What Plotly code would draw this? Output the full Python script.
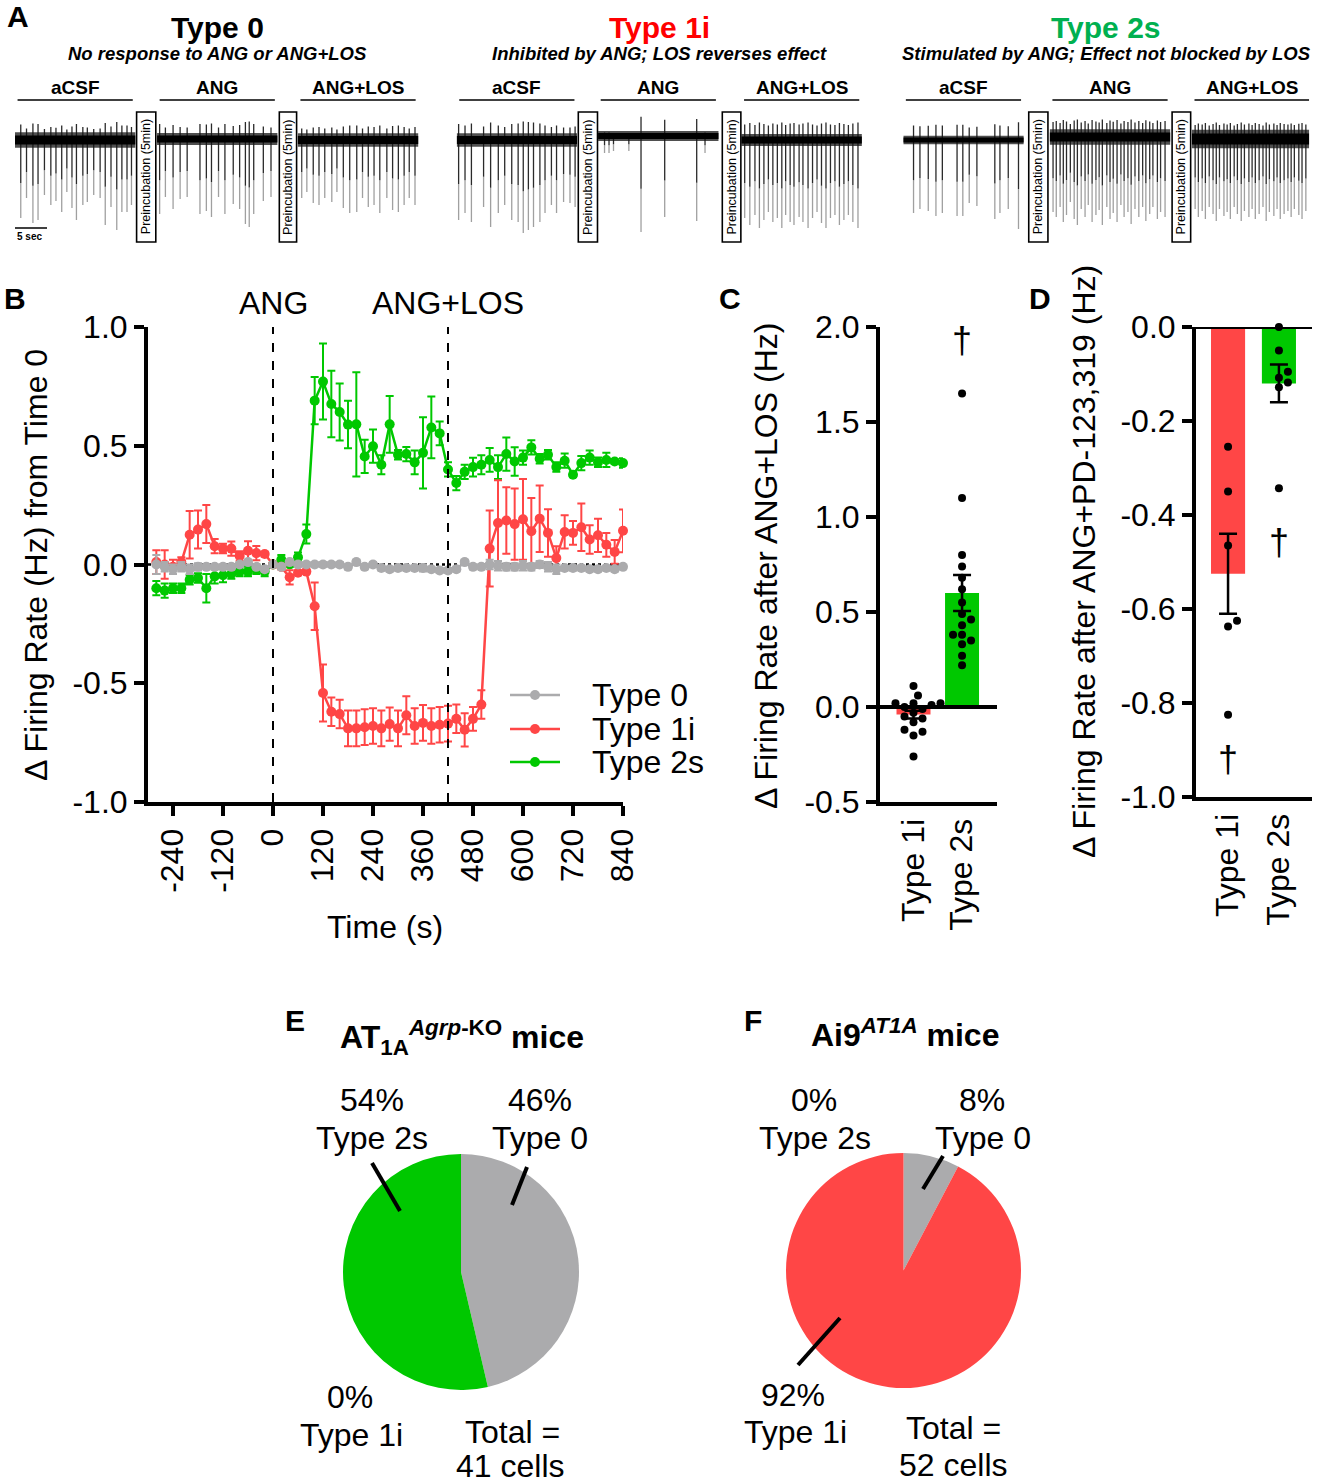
import plotly.graph_objects as go

W, H = 1321, 1483
FONT = "Liberation Sans, Arial, sans-serif"
RED = "#FF4646"
GREEN = "#00C800"
GRAY = "#ABABAD"

# ---------------- DATA ----------------
# Panel A: spike times (s within segment) and amplitudes (a.u.) per segment
t0_acsf_t = [0.9, 1.8, 2.8, 3.6, 4.6, 5.6, 6.4, 7.3, 8.1, 8.9, 9.6, 10.6, 11.3, 12.3, 13.3, 14.1, 15.0, 15.9, 16.7, 17.5, 18.2]
t0_acsf_a = [78, 58, 83, 80, 55, 65, 61, 72, 52, 68, 80, 65, 62, 55, 58, 85, 67, 90, 72, 72, 65]
t0_ang_t = [0.4, 1.3, 2.5, 3.6, 4.7, 6.7, 7.7, 8.5, 9.6, 10.6, 11.9, 12.9, 13.8, 14.4, 15.1, 16.6, 17.8]
t0_ang_a = [75, 58, 70, 60, 58, 75, 72, 78, 58, 75, 65, 70, 85, 88, 75, 62, 58]
t0_los_t = [0.6, 1.4, 2.4, 3.3, 4.2, 5.3, 6.1, 7.1, 8.1, 9.2, 10.1, 11.0, 11.9, 12.8, 13.9, 14.8, 15.7, 16.6, 17.4, 18.3]
t0_los_a = [58, 52, 63, 65, 58, 62, 52, 68, 73, 72, 58, 67, 65, 73, 58, 70, 72, 65, 58, 65]

t1_acsf_t = [0.3, 1.3, 2.3, 4.2, 5.3, 6.5, 7.5, 8.6, 9.6, 10.4, 11.2, 12.0, 13.0, 13.8, 14.8, 15.6, 16.7, 17.7, 18.5]
t1_acsf_a = [80, 73, 82, 67, 87, 73, 65, 80, 82, 93, 90, 87, 82, 73, 65, 73, 62, 63, 67]
t1_ang_t = [1.0, 1.7, 2.4, 4.8, 6.7, 10.4, 15.4, 16.7]
t1_ang_a = [17, 17, 15, 15, 96, 81, 85, 17]
t1_los_t = [0.5, 1.3, 2.1, 2.8, 3.5, 4.2, 4.9, 5.6, 6.3, 6.9, 7.6, 8.2, 9.0, 9.6, 10.4, 11.1, 11.8, 12.5, 13.2, 13.9, 14.6, 15.3, 16.0, 16.7, 17.4, 18.2]
t1_los_a = [78, 85, 75, 88, 80, 72, 82, 78, 88, 75, 82, 85, 77, 82, 88, 78, 72, 83, 88, 78, 75, 85, 80, 75, 82, 88]

t2_acsf_t = [1.6, 2.6, 3.9, 5.1, 6.1, 8.4, 9.3, 10.3, 11.5, 14.3, 15.1, 16.4, 18.0]
t2_acsf_a = [73, 69, 71, 76, 73, 76, 76, 63, 66, 79, 73, 69, 89]
t2_ang_t = [0.5, 1.0, 1.6, 2.1, 2.6, 3.2, 3.8, 4.3, 4.9, 5.5, 6.0, 6.6, 7.2, 7.7, 8.2, 8.9, 9.4, 9.9, 10.5, 11.1, 11.6, 12.2, 12.7, 13.3, 13.9, 14.5, 15.0, 15.6, 16.1, 16.8, 17.3, 18.0]
t2_ang_a = [75, 80, 70, 85, 78, 65, 82, 88, 72, 80, 68, 85, 78, 73, 88, 70, 82, 76, 85, 68, 80, 75, 87, 72, 80, 70, 84, 77, 70, 82, 75, 80]
t2_los_t = [0.5, 1.0, 1.6, 2.1, 2.7, 3.3, 3.8, 4.3, 5.0, 5.5, 6.0, 6.6, 7.1, 7.7, 8.2, 8.9, 9.4, 9.9, 10.5, 11.1, 11.6, 12.1, 12.8, 13.3, 13.8, 14.4, 15.0, 15.5, 16.0, 16.7, 17.2, 17.8]
t2_los_a = [70, 78, 72, 80, 68, 75, 82, 70, 77, 73, 80, 68, 75, 82, 72, 78, 70, 80, 75, 68, 82, 73, 77, 70, 80, 75, 72, 78, 70, 76, 80, 72]

# baseline noise half-amplitude and baseline level per segment (aCSF, ANG, ANG+LOS)
t0_noise = [9, 7, 8]
t1_noise = [8, 6, 7]
t2_noise = [5, 9, 11]
t0_base = [0, 1, 0]
t1_base = [0, 4, 0]
t2_base = [0, 3, 1]

segment_names = ["aCSF", "ANG", "ANG+LOS"]

# Panel B: time bins (s) and mean +/- SEM of delta firing rate (Hz)
time_s = list(range(-280, 841, 20))
type0_mean = [0.0, -0.01, -0.02, -0.01, -0.02, -0.01, -0.01, -0.01, -0.01, -0.01, 0.0, 0.01, -0.01, -0.02,
              0.0, -0.01, 0.01, 0.0, 0.0, 0.0, 0.0, 0.0, 0.0, -0.01, 0.01, -0.01, 0.0, -0.015, -0.02, -0.015,
              -0.015, -0.015, -0.015, -0.02, -0.025, -0.025, -0.02, 0.01, -0.01, -0.01, 0.0, -0.005, -0.01,
              -0.01, -0.005, -0.01, 0.0, -0.01, -0.02, -0.015, -0.015, -0.015, -0.02, -0.02, -0.015, -0.02, -0.01]
type0_sem = [0.04, 0.02, 0.02, 0.02, 0.02, 0.015, 0.01, 0.01, 0.01, 0.01, 0.01, 0.01, 0.01, 0.01,
             0.0, 0.01, 0.01, 0.01, 0.01, 0.01, 0.01, 0.01, 0.01, 0.01, 0.01, 0.01, 0.01, 0.01, 0.01, 0.01,
             0.01, 0.01, 0.015, 0.01, 0.01, 0.01, 0.01, 0.01, 0.01, 0.01, 0.02, 0.02, 0.015, 0.015,
             0.02, 0.015, 0.015, 0.02, 0.02, 0.01, 0.01, 0.01, 0.01, 0.01, 0.01, 0.01, 0.01]
type1i_mean = [0.01, 0.0, -0.01, 0.01, 0.125, 0.147, 0.17, 0.077, 0.067, 0.067, 0.036, 0.058, 0.048, 0.044,
               0.0, -0.01, -0.054, -0.035, -0.03, -0.176, -0.541, -0.62, -0.63, -0.69, -0.69, -0.685, -0.68,
               -0.69, -0.672, -0.69, -0.635, -0.68, -0.667, -0.68, -0.675, -0.67, -0.65, -0.696, -0.65, -0.59,
               0.067, 0.175, 0.185, 0.17, 0.19, 0.14, 0.193, 0.133, 0.027, 0.137, 0.133, 0.157, 0.105, 0.123,
               0.083, 0.053, 0.142]
type1i_sem = [0.05, 0.06, 0.03, 0.02, 0.10, 0.08, 0.08, 0.03, 0.02, 0.03, 0.02, 0.04, 0.03, 0.01,
              0.0, 0.01, 0.03, 0.01, 0.01, 0.10, 0.12, 0.06, 0.06, 0.075, 0.075, 0.075, 0.075, 0.075, 0.07,
              0.075, 0.08, 0.075, 0.075, 0.075, 0.075, 0.075, 0.06, 0.07, 0.05, 0.06, 0.16, 0.18, 0.14,
              0.15, 0.17, 0.14, 0.14, 0.10, 0.05, 0.07, 0.05, 0.10, 0.06, 0.07, 0.05, 0.05, 0.09]
type2s_mean = [-0.10, -0.11, -0.10, -0.10, -0.064, -0.057, -0.10, -0.05, -0.045, -0.04, -0.03, -0.03, -0.02,
               -0.03, 0.0, 0.02, 0.0, 0.03, 0.128, 0.69, 0.77, 0.676, 0.642, 0.589, 0.59, 0.455, 0.498, 0.42,
               0.59, 0.462, 0.465, 0.43, 0.47, 0.577, 0.552, 0.40, 0.343, 0.39, 0.41, 0.42, 0.44, 0.41, 0.465,
               0.434, 0.45, 0.493, 0.445, 0.462, 0.41, 0.437, 0.378, 0.427, 0.45, 0.43, 0.44, 0.434, 0.427]
type2s_sem = [0.03, 0.03, 0.02, 0.02, 0.02, 0.02, 0.06, 0.03, 0.03, 0.02, 0.02, 0.02, 0.02, 0.02,
              0.0, 0.02, 0.01, 0.02, 0.04, 0.10, 0.16, 0.14, 0.12, 0.10, 0.22, 0.07, 0.07, 0.04, 0.12, 0.02,
              0.03, 0.05, 0.15, 0.13, 0.05, 0.03, 0.03, 0.03, 0.04, 0.04, 0.05, 0.05, 0.07, 0.06, 0.03, 0.03,
              0.02, 0.02, 0.02, 0.03, 0.01, 0.03, 0.03, 0.02, 0.03, 0.01, 0.02]
xticks_b = [-240, -120, 0, 120, 240, 360, 480, 600, 720, 840]

# Panel C
bar_cats = ["Type 1i", "Type 2s"]
c_mean = [-0.04, 0.60]
c_sem = [0.02, 0.095]
c_pts_1i = [0.11, 0.06, 0.02, 0.02, 0.02, 0.01, 0.0, -0.01, -0.03, -0.05, -0.06, -0.08, -0.12, -0.13, -0.15, -0.26]
c_pts_2s = [1.65, 1.10, 0.80, 0.74, 0.68, 0.62, 0.55, 0.49, 0.46, 0.43, 0.38, 0.38, 0.35, 0.33, 0.27, 0.22]
c_dagger = [None, 1.91]

# Panel D
d_mean = [-0.525, -0.12]
d_sem = [0.085, 0.04]
d_pts_1i = [-0.255, -0.35, -0.465, -0.625, -0.637, -0.825]
d_pts_2s = [0.0, -0.05, -0.095, -0.108, -0.118, -0.128, -0.343]
d_dagger = [-0.928, -0.466]

# Panels E, F (cell counts)
pie_labels = ["Type 0", "Type 1i", "Type 2s"]
e_counts = [19, 0, 22]
f_counts = [4, 48, 0]

# ---------------- HELPERS ----------------
def fx(p):
    return p / W


def fy(p):
    return 1 - p / H


fig = go.Figure()
shapes = []
annots = []
lay = {}


def text(t, xp, yp, size=32, color="black", angle=0, xanchor="center", yanchor="middle"):
    annots.append(dict(text=t, x=fx(xp), y=fy(yp), xref="paper", yref="paper", showarrow=False,
                       font=dict(family=FONT, size=size, color=color), textangle=angle,
                       xanchor=xanchor, yanchor=yanchor))


def pline(x0, y0, x1, y1, width=4, color="black", dash=None):
    shapes.append(dict(type="line", xref="paper", yref="paper", x0=fx(x0), y0=fy(y0), x1=fx(x1), y1=fy(y1),
                       line=dict(color=color, width=width, dash=dash)))


# ---------------- PANEL A ----------------
SEG_LEN = 18.8
A_SPAN = 63.4
PX_PER_S = 6.4
panelA = [
    dict(title="Type 0", color="black", sub="No response to ANG or ANG+LOS", x0=15,
         starts=[0, 22.2, 44.2], boxes=[(19.0, 22.0), (41.3, 44.0)],
         spikes=[(t0_acsf_t, t0_acsf_a), (t0_ang_t, t0_ang_a), (t0_los_t, t0_los_a)],
         noise=t0_noise, base=t0_base),
    dict(title="Type 1i", color="#FF0000", sub="Inhibited by ANG; LOS reverses effect", x0=456.7,
         starts=[0, 22.1, 44.5], boxes=[(19.0, 22.0), (41.5, 44.4)],
         spikes=[(t1_acsf_t, t1_acsf_a), (t1_ang_t, t1_ang_a), (t1_los_t, t1_los_a)],
         noise=t1_noise, base=t1_base),
    dict(title="Type 2s", color="#00B050", sub="Stimulated by ANG; Effect not blocked by LOS", x0=903.3,
         starts=[0, 22.9, 45.1], boxes=[(19.6, 22.6), (42.0, 44.9)],
         spikes=[(t2_acsf_t, t2_acsf_a), (t2_ang_t, t2_ang_a), (t2_los_t, t2_los_a)],
         noise=t2_noise, base=t2_base),
]

for i, P in enumerate(panelA, start=1):
    xa, ya = f"x{i}", f"y{i}"
    x1px = P["x0"] + A_SPAN * PX_PER_S
    lay[f"xaxis{i}"] = dict(domain=[fx(P["x0"]), fx(x1px)], range=[0, A_SPAN], visible=False,
                            anchor=ya, fixedrange=True)
    lay[f"yaxis{i}"] = dict(domain=[fy(252), fy(60)], range=[-112, 80], visible=False,
                            anchor=xa, fixedrange=True)
    for s in range(3):
        off = P["starts"][s]
        b = P["base"][s]
        ts, amps = P["spikes"][s]
        xt, yt, xb, yb = [], [], [], []
        for t, a in zip(ts, amps):
            xx = off + t
            xt += [xx, xx, None]
            yt += [b + 0.2 * a, b - 0.55 * a, None]
            xb += [xx, xx, None]
            yb += [b - 0.55 * a, b - a, None]
        fig.add_trace(go.Scatter(x=xb, y=yb, mode="lines", line=dict(color="#a0a0a0", width=1.3),
                                 xaxis=xa, yaxis=ya, hoverinfo="skip", showlegend=False))
        fig.add_trace(go.Scatter(x=xt, y=yt, mode="lines", line=dict(color="#2a2a2a", width=1.3),
                                 xaxis=xa, yaxis=ya, hoverinfo="skip", showlegend=False))
        # noise envelope and dense core of the baseline
        fig.add_trace(go.Scatter(x=[off, off + SEG_LEN], y=[b, b], mode="lines",
                                 line=dict(color="rgba(20,20,20,0.75)", width=1.7 * P["noise"][s]),
                                 xaxis=xa, yaxis=ya, hoverinfo="skip", showlegend=False))
        fig.add_trace(go.Scatter(x=[off, off + SEG_LEN], y=[b, b], mode="lines",
                                 line=dict(color="black", width=1.0 * P["noise"][s]),
                                 xaxis=xa, yaxis=ya, hoverinfo="skip", showlegend=False))
        annots.append(dict(text=f"<b>{segment_names[s]}</b>", x=off + SEG_LEN / 2, y=52, xref=xa, yref=ya,
                           showarrow=False, font=dict(family=FONT, size=19, color="black")))
        shapes.append(dict(type="line", xref=xa, yref=ya, x0=off + 0.4, x1=off + SEG_LEN - 0.4, y0=40, y1=40,
                           line=dict(color="black", width=1.6)))
    for (bx0, bx1) in P["boxes"]:
        shapes.append(dict(type="rect", xref=xa, yref=ya, x0=bx0, x1=bx1, y0=-102, y1=28,
                           line=dict(color="black", width=1.6), fillcolor="white", layer="above"))
        annots.append(dict(text="Preincubation (5min)", x=(bx0 + bx1) / 2, y=-37, xref=xa, yref=ya,
                           showarrow=False, textangle=-90, font=dict(family=FONT, size=12.5, color="black")))
    cx = P["x0"] + A_SPAN * PX_PER_S / 2
    text(f"<b>{P['title']}</b>", cx, 27, size=30, color=P["color"])
    text(f"<b><i>{P['sub']}</i></b>", cx, 54, size=18.5)

# scale bar
shapes.append(dict(type="line", xref="x1", yref="y1", x0=0, x1=5, y0=-88, y1=-88,
                   line=dict(color="black", width=1.6)))
annots.append(dict(text="<b>5 sec</b>", x=2.3, y=-97, xref="x1", yref="y1", showarrow=False,
                   font=dict(family=FONT, size=10, color="black")))

# ---------------- PANEL B ----------------
axis_common = dict(showgrid=False, zeroline=False, showline=True, linecolor="black", linewidth=4,
                   ticks="outside", ticklen=10, tickwidth=4, tickcolor="black",
                   tickfont=dict(family=FONT, size=32, color="black"), fixedrange=True, automargin=False)

lay["xaxis4"] = dict(axis_common, domain=[fx(148), fx(623)], range=[-300, 840], anchor="y4",
                     tickvals=xticks_b, ticktext=[str(v) for v in xticks_b], tickangle=-90)
lay["yaxis4"] = dict(axis_common, domain=[fy(802), fy(327)], range=[-1, 1], anchor="x4",
                     tickvals=[-1, -0.5, 0, 0.5, 1], ticktext=["-1.0", "-0.5", "0.0", "0.5", "1.0"])

shapes.append(dict(type="line", xref="x4", yref="y4", x0=-300, x1=840, y0=0, y1=0, layer="below",
                   line=dict(color="black", width=2.5, dash="dot")))
for xv in [0, 420]:
    shapes.append(dict(type="line", xref="x4", yref="y4", x0=xv, x1=xv, y0=-1, y1=1,
                       line=dict(color="black", width=2, dash="dash")))

for name, mean, sem, col in [("Type 2s", type2s_mean, type2s_sem, GREEN),
                             ("Type 1i", type1i_mean, type1i_sem, RED),
                             ("Type 0", type0_mean, type0_sem, GRAY)]:
    fig.add_trace(go.Scatter(x=time_s, y=mean, mode="lines+markers", name=name,
                             line=dict(color=col, width=2.5), marker=dict(color=col, size=10),
                             error_y=dict(type="data", array=sem, color=col, thickness=2, width=4),
                             xaxis="x4", yaxis="y4", showlegend=False, cliponaxis=False))

annots.append(dict(text="ANG", x=0, y=fy(303), xref="x4", yref="paper", showarrow=False,
                   xanchor="center", yanchor="middle", font=dict(family=FONT, size=32, color="black")))
annots.append(dict(text="ANG+LOS", x=420, y=fy(303), xref="x4", yref="paper", showarrow=False,
                   xanchor="center", yanchor="middle", font=dict(family=FONT, size=32, color="black")))
text("Δ Firing Rate (Hz) from Time 0", 36, 565, size=32, angle=-90)
text("Time (s)", 385, 927, size=32)

for (lbl, col, yp) in [("Type 0", GRAY, 695), ("Type 1i", RED, 729), ("Type 2s", GREEN, 762)]:
    pline(510, yp, 560, yp, width=2.5, color=col)
    shapes.append(dict(type="circle", xref="paper", yref="paper", x0=fx(530), x1=fx(540), y0=fy(yp + 5),
                       y1=fy(yp - 5), fillcolor=col, line=dict(color=col, width=0)))
    text(lbl, 590, yp, size=32, xanchor="left")


# ---------------- PANELS C & D ----------------
def swarm(vals, ppu_y, ppu_x, d=8.0, step=4.5):
    order = sorted(range(len(vals)), key=lambda i: vals[i])
    placed = []
    offs = [0.0] * len(vals)
    cands = [0.0] + [sg * m * step for m in range(1, 12) for sg in (1, -1)]
    for i in order:
        yv = vals[i] * ppu_y
        chosen = cands[-1]
        for c in cands:
            if all((c - px) ** 2 + (yv - py) ** 2 >= d * d for px, py in placed):
                chosen = c
                break
        placed.append((chosen, yv))
        offs[i] = chosen / ppu_x
    return offs


def bar_panel(idx, xdom, ydom, xr, yr, yticks, yticktext, means, sems, pts_list, daggers, ppu_y, ppu_x, bwidth):
    xa, ya = f"x{idx}", f"y{idx}"
    lay[f"xaxis{idx}"] = dict(axis_common, domain=xdom, range=xr, anchor=ya, ticks="",
                              tickvals=[0, 1], ticktext=bar_cats, tickangle=-90)
    lay[f"yaxis{idx}"] = dict(axis_common, domain=ydom, range=yr, anchor=xa,
                              tickvals=yticks, ticktext=yticktext)
    fig.add_trace(go.Bar(x=[0, 1], y=means, width=bwidth, marker=dict(color=[RED, GREEN], line=dict(width=0)),
                         xaxis=xa, yaxis=ya, showlegend=False))
    for k, pts in enumerate(pts_list):
        offs = swarm(pts, ppu_y, ppu_x)
        fig.add_trace(go.Scatter(x=[k + o for o in offs], y=pts, mode="markers",
                                 marker=dict(color="black", size=8), xaxis=xa, yaxis=ya,
                                 showlegend=False, cliponaxis=False))
    fig.add_trace(go.Scatter(x=[0, 1], y=means, mode="markers", marker=dict(size=1, color="rgba(0,0,0,0)"),
                             error_y=dict(type="data", array=sems, color="black", thickness=2.5, width=9),
                             xaxis=xa, yaxis=ya, showlegend=False, cliponaxis=False))
    dx = [k for k, v in enumerate(daggers) if v is not None]
    dy = [v for v in daggers if v is not None]
    fig.add_trace(go.Scatter(x=dx, y=dy, mode="text", text=["†"] * len(dx),
                             textfont=dict(family=FONT, size=36, color="black"), textposition="middle center",
                             xaxis=xa, yaxis=ya, showlegend=False, cliponaxis=False))
    shapes.append(dict(type="line", xref=f"{xa} domain", yref=ya, x0=0, x1=1, y0=0, y1=0,
                       line=dict(color="black", width=4)))


bar_panel(5, [fx(880), fx(997)], [fy(802), fy(327)], [-0.69, 1.72], [-0.5, 2.0],
          [-0.5, 0, 0.5, 1, 1.5, 2], ["-0.5", "0.0", "0.5", "1.0", "1.5", "2.0"],
          c_mean, c_sem, [c_pts_1i, c_pts_2s], c_dagger, 190, 48.5, 0.70)
bar_panel(6, [fx(1196), fx(1312)], [fy(797), fy(327)], [-0.63, 1.65], [-1.0, 0.0],
          [-1, -0.8, -0.6, -0.4, -0.2, 0], ["-1.0", "-0.8", "-0.6", "-0.4", "-0.2", "0.0"],
          d_mean, d_sem, [d_pts_1i, d_pts_2s], d_dagger, 470, 51, 0.67)

text("Δ Firing Rate after ANG+LOS (Hz)", 766, 566, size=32, angle=-90)
text("Δ Firing Rate after ANG+PD-123,319 (Hz)", 1084, 562, size=32, angle=-90)

# ---------------- PANELS E & F ----------------
for counts, (cx, cy, r) in [(e_counts, (461, 1272, 118)), (f_counts, (903.5, 1270.5, 117.5))]:
    fig.add_trace(go.Pie(labels=pie_labels, values=counts, sort=False, direction="clockwise", rotation=0,
                         marker=dict(colors=[GRAY, RED, GREEN], line=dict(width=0)), textinfo="none",
                         hoverinfo="label+value", showlegend=False,
                         domain=dict(x=[fx(cx - r), fx(cx + r)], y=[fy(cy + r), fy(cy - r)])))

text("<b>AT<sub>1A</sub><sup><i>Agrp</i>-KO</sup> mice</b>", 462, 1037, size=32)
text("<b>Ai9<sup><i>AT1A</i></sup> mice</b>", 905, 1033, size=32)

for t, xp, yp in [("54%", 372, 1100), ("Type 2s", 372, 1138), ("46%", 540, 1100), ("Type 0", 540, 1138),
                  ("0%", 350, 1397), ("Type 1i", 351, 1435), ("Total =", 512, 1432), ("41 cells", 511, 1466),
                  ("0%", 814, 1100), ("Type 2s", 815, 1138), ("8%", 982, 1100), ("Type 0", 983, 1138),
                  ("92%", 793, 1395), ("Type 1i", 795, 1432), ("Total =", 953, 1428), ("52 cells", 953, 1465)]:
    text(t, xp, yp, size=32)

pline(372, 1163, 400, 1211)
pline(527, 1167, 512, 1205)
pline(943, 1156, 923, 1189)
pline(840, 1318, 798, 1365)

# panel letters
for lt, xp, yp in [("A", 18, 16), ("B", 15, 298), ("C", 730, 298), ("D", 1040, 298), ("E", 295, 1020),
                   ("F", 753, 1020)]:
    text(f"<b>{lt}</b>", xp, yp, size=30)

fig.update_layout(width=W, height=H, margin=dict(l=0, r=0, t=0, b=0), paper_bgcolor="white",
                  plot_bgcolor="white", showlegend=False, shapes=shapes, annotations=annots,
                  font=dict(family=FONT, color="black"), **lay)
fig.write_html("out.html", config={"displayModeBar": False},
               post_script="document.body.style.margin='0px';document.body.style.padding='0px';")
